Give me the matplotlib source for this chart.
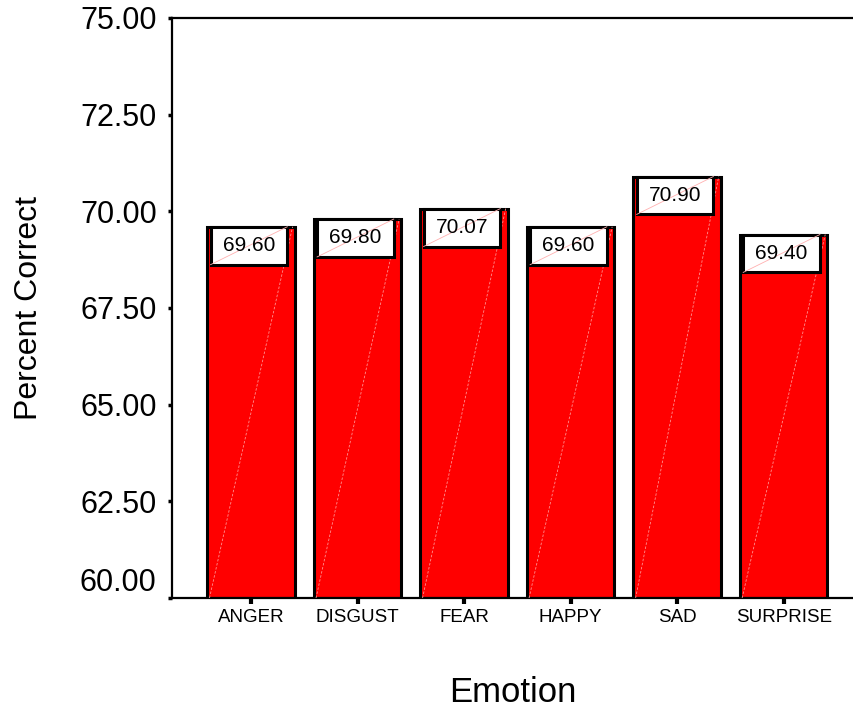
import matplotlib.pyplot as plt
import matplotlib.transforms as mtransforms
import numpy as np
from matplotlib.patches import Rectangle

plt.rcParams['font.family'] = ['Liberation Sans', 'DejaVu Sans']

emotions = ['ANGER', 'DISGUST', 'FEAR', 'HAPPY', 'SAD', 'SURPRISE']
percent_correct = [69.60, 69.80, 70.07, 69.60, 70.90, 69.40]
y_ticks = [60.0, 62.5, 65.0, 67.5, 70.0, 72.5, 75.0]

fig = plt.figure(figsize=(8.54, 7.16), dpi=100)
ax = fig.add_axes([0.2014, 0.1648, 0.7986, 0.8101])

x = np.arange(len(emotions))
bar_w = 0.82
y0 = 60.0
ax.bar(x, np.array(percent_correct) - y0, bottom=y0, width=bar_w,
       color='#ff0000', edgecolor='black', linewidth=2.2, zorder=2)

# value boxes sitting at the top of each bar
box_w = 0.72
box_h = 0.98
for xi, v in zip(x, percent_correct):
    left = xi - bar_w / 2
    right = xi + bar_w / 2
    # faint corner-to-corner streak of the bar fill
    ax.plot([left + 0.02, right - 0.02], [y0, v], color='#ff9090',
            lw=0.6, ls=(0, (3, 2)), zorder=3)
    bx = xi - 0.02 - box_w / 2
    ax.add_patch(Rectangle((bx, v - box_h), box_w, box_h, facecolor='white',
                           edgecolor='black', linewidth=2.2, zorder=4))
    ax.plot([bx, bx + box_w], [v - box_h, v], color='#ffb0b0',
            lw=0.6, zorder=4.5)
    ax.text(bx + box_w / 2, v - box_h / 2, f'{v:.2f}', ha='center',
            va='center', fontsize=15, zorder=5)

ax.set_xlim(-0.742, 5.66)
ax.set_ylim(60, 75)
ax.set_xticks(x)
ax.set_xticklabels(emotions, fontsize=13.5)
ax.set_yticks(y_ticks)
ax.set_yticklabels([f'{t:.2f}' for t in y_ticks], fontsize=22)
ax.tick_params(axis='y', length=3, width=2.5, pad=8)
ax.tick_params(axis='x', length=4, width=3, pad=4)

# lift the bottom label clear of the x axis line
lbl0 = ax.get_yticklabels()[0]
lbl0.set_transform(lbl0.get_transform() +
                   mtransforms.ScaledTranslation(0, 19 / 100, fig.dpi_scale_trans))

ax.spines['right'].set_visible(False)
for s in ['left', 'top', 'bottom']:
    ax.spines[s].set_linewidth(1.6)

ax.set_ylabel('Percent Correct', fontsize=23, labelpad=26)
ax.set_xlabel('Emotion', fontsize=25, labelpad=36)

fig.savefig('out.png', dpi=100)
